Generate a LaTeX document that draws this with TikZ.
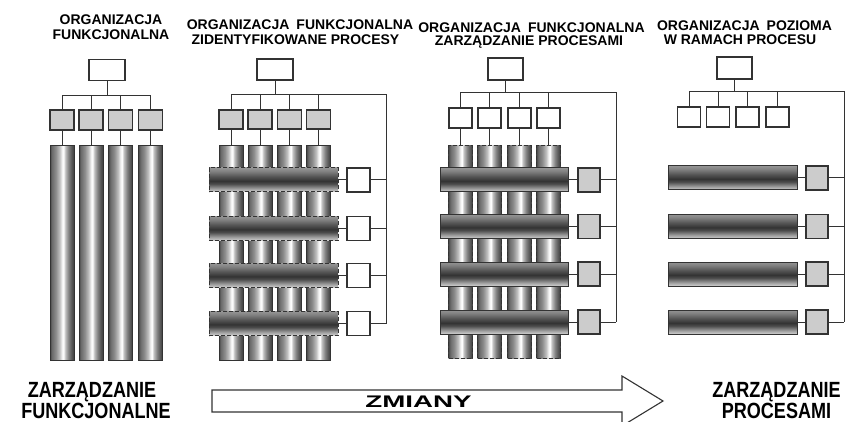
\documentclass[tikz,border=0pt]{standalone}
\usepackage{fontspec}
\setmainfont{Liberation Sans}
\definecolor{linec}{gray}{0.2}
\definecolor{boxgray}{gray}{0.8}
\pgfdeclarehorizontalshading{colshade}{100bp}{color(0bp)=(black!72); color(25bp)=(black!72); color(29bp)=(black!58); color(37bp)=(black!45); color(45bp)=(black!25); color(50bp)=(black!5); color(53bp)=(white); color(57bp)=(black!25); color(64bp)=(black!50); color(71bp)=(black!68); color(75bp)=(black!75); color(100bp)=(black!75)}
\pgfdeclareverticalshading{barshade}{100bp}{color(0bp)=(black!18); color(25bp)=(black!18); color(32bp)=(black!38); color(42bp)=(black!70); color(48bp)=(black!80); color(58bp)=(black!66); color(68bp)=(black!50); color(75bp)=(black!42); color(100bp)=(black!42)}
\tikzset{
  box/.style={draw=linec, line width=1.1pt, fill=white, inner sep=0pt, outer sep=0pt},
  gbox/.style={box, fill=boxgray},
  colv/.style={draw=linec, line width=1pt, shade, shading=colshade, inner sep=0pt, outer sep=0pt, minimum width=24pt},
  barh/.style={draw=linec, line width=1pt, shade, shading=barshade, inner sep=0pt, outer sep=0pt, minimum height=24pt},
  wire/.style={draw=linec, line width=1pt},
  dsh/.style={dash pattern=on 4pt off 2pt},
  ttl/.style={font=\fontsize{14}{16}\selectfont\bfseries, anchor=base, inner sep=0pt},
  bigt/.style={font=\fontsize{22}{24}\selectfont\bfseries, anchor=base, inner sep=0pt},
}
\begin{document}
\begin{tikzpicture}[x=1pt,y=-1pt]
\useasboundingbox (0,0) rectangle (846,422);
\fill[white] (0,0) rectangle (846,422);

% ---------- titles
\node[ttl] (t1a) at (111,25) {ORGANIZACJA};
\node[ttl] (t1b) at (111,39.3) {FUNKCJONALNA};
\node[ttl] (t2a) at (300,29.5) {ORGANIZACJA\hspace{0.5em}FUNKCJONALNA};
\node[ttl] (t2b) at (295.5,44.5) {ZIDENTYFIKOWANE PROCESY};
\node[ttl] (t3a) at (531.5,32.5) {ORGANIZACJA\hspace{0.5em}FUNKCJONALNA};
\node[ttl] (t3b) at (529,45.5) {ZARZĄDZANIE PROCESAMI};
\node[ttl] (t4a) at (744.5,31) {ORGANIZACJA\hspace{0.5em}POZIOMA};
\node[ttl] (t4b) at (740,45) {W RAMACH PROCESU};

% ---------- panel 1
\node[box, minimum width=36pt, minimum height=21pt] (p1t) at (107,70) {};
\foreach \i/\x in {1/62,2/91,3/120.5,4/150.5} {
  \node[gbox, minimum width=24pt, minimum height=20pt] (p1g\i) at (\x,120) {};
  \node[colv, minimum height=214pt] (p1c\i) at (\x,253) {};
  \draw[wire] (p1t.south) -- ++(0,15) -| (p1g\i.north);
  \draw[wire] (p1g\i.south) -- (p1c\i.north);
}

% ---------- panel 2
\node[box, minimum width=36pt, minimum height=21pt] (p2t) at (275,69.5) {};
\coordinate (p2r) at (386,323.5);
\draw[wire] (p2t.south) -- ++(0,15) -| (p2r);
\foreach \i/\x in {1/231,2/260,3/289.5,4/318.5} {
  \node[gbox, minimum width=24pt, minimum height=19pt] (p2g\i) at (\x,119.5) {};
  \node[colv, minimum height=214pt] (p2c\i) at (\x,253) {};
  \draw[wire] (p2t.south) -- ++(0,15) -| (p2g\i.north);
  \draw[wire] (p2g\i.south) -- (p2c\i.north);
}
\foreach \j/\y in {1/180,2/228.5,3/275.5,4/323.5} {
  \node[barh, dsh, minimum width=129pt] (p2b\j) at (273.5,\y) {};
  \node[box, minimum width=23pt, minimum height=24pt] (p2s\j) at (358.5,\y) {};
  \draw[wire] (p2b\j.east) -- (p2s\j.west);
  \draw[wire] (p2s\j.east) -- (p2s\j.east -| p2r);
}

% ---------- panel 3
\node[box, minimum width=35pt, minimum height=22pt] (p3t) at (505.5,69) {};
\coordinate (p3r) at (616,322);
\draw[wire] (p3t.south) -- ++(0,13) -| (p3r);
\foreach \i/\x in {1/460.5,2/489.5,3/519.5,4/548.5} {
  \node[box, minimum width=23pt, minimum height=20pt] (p3g\i) at (\x,118) {};
  \node[colv, dsh, minimum height=212pt] (p3c\i) at (\x,252) {};
  \draw[wire] (p3t.south) -- ++(0,13) -| (p3g\i.north);
  \draw[wire] (p3g\i.south) -- (p3c\i.north);
}
\foreach \j/\y in {1/180,2/226.5,3/274,4/322} {
  \node[barh, minimum width=128pt] (p3b\j) at (504,\y) {};
  \node[gbox, minimum width=22pt, minimum height=24pt] (p3s\j) at (589,\y) {};
  \draw[wire] (p3b\j.east) -- (p3s\j.west);
  \draw[wire] (p3s\j.east) -- (p3s\j.east -| p3r);
}

% ---------- panel 4
\node[box, minimum width=35pt, minimum height=22pt] (p4t) at (734.5,68) {};
\coordinate (p4r) at (844,322);
\draw[wire] (p4t.south) -- ++(0,13) -| (p4r);
\foreach \i/\x in {1/689,2/718,3/747.5,4/777.5} {
  \node[box, minimum width=23pt, minimum height=20pt] (p4g\i) at (\x,117) {};
  \draw[wire] (p4t.south) -- ++(0,13) -| (p4g\i.north);
}
\foreach \j/\y in {1/178,2/226.5,3/274,4/322} {
  \node[barh, minimum width=129pt] (p4b\j) at (732.5,\y) {};
  \node[gbox, minimum width=22pt, minimum height=24pt] (p4s\j) at (817,\y) {};
  \draw[wire] (p4b\j.east) -- (p4s\j.west);
  \draw[wire] (p4s\j.east) -- (p4s\j.east -| p4r);
}

% ---------- bottom
\draw[draw=linec, line width=1.1pt, fill=white] (212,390) -- (622,390) -- (622,376) -- (663,401) -- (622,426) -- (622,412) -- (212,412) -- cycle;
\node[anchor=base, inner sep=0pt, font=\fontsize{16.8}{18}\selectfont\bfseries] (zm) at (418.5,407) {\scalebox{1.65}[1]{ZMIANY}};
\node[bigt] (zf1) at (92,397.5) {\scalebox{0.82}[1]{ZARZĄDZANIE}};
\node[bigt] (zf2) at (96,418.5) {\scalebox{0.82}[1]{FUNKCJONALNE}};
\node[bigt] (zp1) at (776.5,397.5) {\scalebox{0.82}[1]{ZARZĄDZANIE}};
\node[bigt] (zp2) at (776.5,418.5) {\scalebox{0.82}[1]{PROCESAMI}};
\end{tikzpicture}
\end{document}
